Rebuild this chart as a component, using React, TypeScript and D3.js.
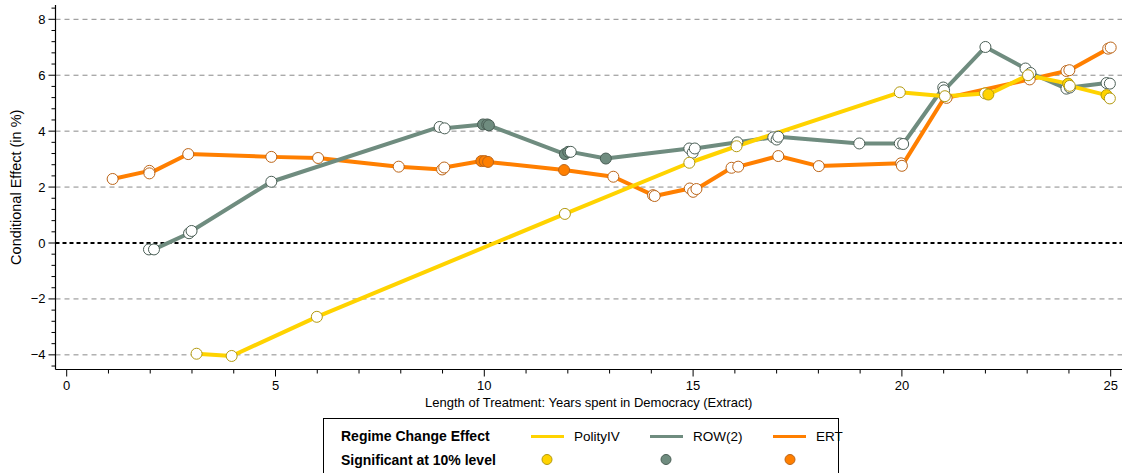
import React from "react";
import * as d3 from "d3";

// ---- Data ----
const ertX = [1.1, 1.98, 1.98, 2.91, 4.9, 6.02, 7.95, 8.99, 9.04, 9.93, 10.01, 10.09, 11.91, 13.09, 14.04, 14.08, 14.92, 15.0, 15.08, 15.92, 16.08, 17.04, 18.01, 19.98, 20.0, 21.03, 21.07, 23.06, 23.94, 24.01, 24.94, 25.0];
const ertY = [2.29, 2.58, 2.49, 3.18, 3.08, 3.04, 2.73, 2.63, 2.70, 2.93, 2.93, 2.90, 2.61, 2.37, 1.71, 1.68, 1.95, 1.83, 1.93, 2.69, 2.73, 3.11, 2.75, 2.85, 2.76, 5.23, 5.19, 5.85, 6.15, 6.18, 6.95, 6.99];
const ertSig = [0, 0, 0, 0, 0, 0, 0, 0, 0, 1, 1, 1, 1, 0, 0, 0, 0, 0, 0, 0, 0, 0, 0, 0, 0, 0, 0, 0, 0, 0, 0, 0];

const rowX = [1.97, 2.09, 2.93, 2.99, 4.9, 8.93, 9.05, 9.97, 10.07, 10.11, 11.93, 12.01, 12.07, 12.91, 14.91, 14.99, 15.04, 16.06, 16.92, 17.0, 17.04, 18.98, 19.95, 20.03, 20.99, 21.01, 22.0, 22.96, 23.08, 23.94, 24.02, 24.9, 24.98];
const rowY = [-0.23, -0.23, 0.35, 0.43, 2.19, 4.15, 4.10, 4.24, 4.24, 4.21, 3.18, 3.26, 3.26, 3.02, 3.38, 3.23, 3.38, 3.60, 3.78, 3.70, 3.80, 3.56, 3.56, 3.54, 5.56, 5.46, 7.01, 6.24, 6.08, 5.52, 5.56, 5.72, 5.70];
const rowSig = [0, 0, 0, 0, 0, 0, 0, 1, 1, 1, 1, 1, 0, 1, 0, 0, 0, 0, 0, 0, 0, 0, 0, 0, 0, 0, 0, 0, 0, 0, 0, 0, 0];

const polX = [3.11, 3.95, 5.99, 11.93, 14.91, 16.04, 19.95, 21.03, 21.99, 22.07, 23.02, 23.98, 24.02, 24.9, 24.98];
const polY = [-3.96, -4.04, -2.64, 1.04, 2.87, 3.46, 5.39, 5.25, 5.35, 5.31, 6.0, 5.70, 5.62, 5.29, 5.17];
const polSig = [0, 0, 0, 0, 0, 0, 0, 0, 0, 1, 0, 1, 0, 1, 0];

const seriesNames = ["PolityIV", "ROW(2)", "ERT"];
const xMajorTicks = [0, 5, 10, 15, 20, 25];
const yMajorTicks = [-4, -2, 0, 2, 4, 6, 8];

const COLORS: Record<string, { line: string; stroke: string }> = {
  PolityIV: { line: "#FFD300", stroke: "#B39A10" },
  "ROW(2)": { line: "#6F8C7F", stroke: "#4A5E55" },
  ERT: { line: "#FF7F00", stroke: "#BC6518" },
};

type Pt = { x: number; y: number; s: number };
const mk = (xs: number[], ys: number[], ss: number[]): Pt[] =>
  xs.map((x, i) => ({ x, y: ys[i], s: ss[i] }));

const data: Record<string, Pt[]> = {
  PolityIV: mk(polX, polY, polSig),
  "ROW(2)": mk(rowX, rowY, rowSig),
  ERT: mk(ertX, ertY, ertSig),
};

const W = 1124;
const H = 473;
const FONT = "'Liberation Sans', Arial, Helvetica, sans-serif";

export default function App() {
  const x = d3.scaleLinear().domain([0, 25]).range([66.7, 1110.7]);
  const y = d3.scaleLinear().domain([0, 8]).range([243, 19.3]);
  const axisLeft = 55.5;
  const axisBottom = 369.5;
  const yTop = 5;
  const xRight = 1122;

  const line = d3
    .line<Pt>()
    .x((d) => x(d.x))
    .y((d) => y(d.y));

  const xMinor = d3.range(0, 26, 1).filter((v) => v % 5 !== 0);
  const yMinor = d3
    .range(-4.4, 8.45, 0.4)
    .map((v) => Math.round(v * 10) / 10)
    .filter((v) => !yMajorTicks.some((m) => Math.abs(m - v) < 1e-6));

  const lineOrder = ["ERT", "ROW(2)", "PolityIV"];

  return (
    <svg
      width={W}
      height={H}
      style={{ position: "absolute", left: 0, top: 0, fontFamily: FONT }}
    >
      <rect x={0} y={0} width={W} height={H} fill="#fff" />
      {/* grid */}
      {yMajorTicks
        .filter((v) => v !== 0)
        .map((v) => (
          <line
            key={"g" + v}
            x1={axisLeft}
            x2={xRight}
            y1={y(v)}
            y2={y(v)}
            stroke="#8a8a8a"
            strokeWidth={1}
            strokeDasharray="5,4"
          />
        ))}
      <line
        x1={axisLeft}
        x2={xRight}
        y1={y(0)}
        y2={y(0)}
        stroke="#000"
        strokeWidth={2}
        strokeDasharray="4,3"
      />
      {/* lines */}
      {lineOrder.map((name) => (
        <path
          key={"l" + name}
          d={line(data[name]) || ""}
          fill="none"
          stroke={COLORS[name].line}
          strokeWidth={4}
          strokeLinejoin="round"
          strokeLinecap="round"
        />
      ))}
      {/* points */}
      {lineOrder.map((name) =>
        data[name].map((d, i) => (
          <circle
            key={name + i}
            cx={x(d.x)}
            cy={y(d.y)}
            r={5.5}
            fill={d.s ? COLORS[name].line : "#fff"}
            stroke={COLORS[name].stroke}
            strokeWidth={1}
          />
        ))
      )}
      {/* axes */}
      <line x1={axisLeft} x2={axisLeft} y1={yTop} y2={axisBottom} stroke="#000" strokeWidth={1.2} />
      <line x1={axisLeft} x2={xRight} y1={axisBottom} y2={axisBottom} stroke="#000" strokeWidth={1.2} />
      {yMajorTicks.map((v) => (
        <g key={"yt" + v}>
          <line x1={axisLeft - 7} x2={axisLeft} y1={y(v)} y2={y(v)} stroke="#000" strokeWidth={1} />
          <text
            x={axisLeft - 10}
            y={y(v)}
            dy="0.35em"
            textAnchor="end"
            fontSize={13}
            fill="#000"
          >
            {v < 0 ? "\u2212" + Math.abs(v) : String(v)}
          </text>
        </g>
      ))}
      {yMinor.map((v) => (
        <line key={"ym" + v} x1={axisLeft - 4} x2={axisLeft} y1={y(v)} y2={y(v)} stroke="#000" strokeWidth={1} />
      ))}
      {xMajorTicks.map((v) => (
        <g key={"xt" + v}>
          <line x1={x(v)} x2={x(v)} y1={axisBottom} y2={axisBottom + 7} stroke="#000" strokeWidth={1} />
          <text x={x(v)} y={axisBottom + 20} textAnchor="middle" fontSize={13} fill="#000">
            {v}
          </text>
        </g>
      ))}
      {xMinor.map((v) => (
        <line key={"xm" + v} x1={x(v)} x2={x(v)} y1={axisBottom} y2={axisBottom + 4} stroke="#000" strokeWidth={1} />
      ))}
      <text
        x={(axisLeft + xRight) / 2}
        y={407}
        textAnchor="middle"
        fontSize={13}
        fill="#000"
      >
        Length of Treatment: Years spent in Democracy (Extract)
      </text>
      <text
        transform={`translate(21,${(yTop + axisBottom) / 2}) rotate(-90)`}
        textAnchor="middle"
        fontSize={14.5}
        fill="#000"
      >
        Conditional Effect (in %)
      </text>
      {/* legend */}
      <rect x={323.5} y={418.5} width={515} height={70} fill="#fff" stroke="#000" strokeWidth={1} />
      <text x={341} y={441} fontSize={14} fontWeight="bold" fill="#000">
        Regime Change Effect
      </text>
      <text x={341} y={464.5} fontSize={14} fontWeight="bold" fill="#000">
        Significant at 10% level
      </text>
      {seriesNames.map((name, i) => {
        const lx = [531, 650, 773][i];
        const cx = [547, 666, 790][i];
        return (
          <g key={"lg" + name}>
            <line x1={lx} x2={lx + 33} y1={436.5} y2={436.5} stroke={COLORS[name].line} strokeWidth={3} />
            <text x={lx + 43} y={441} fontSize={13.5} fill="#000">
              {name}
            </text>
            <circle cx={cx} cy={459.5} r={5} fill={COLORS[name].line} stroke={COLORS[name].stroke} strokeWidth={1} />
          </g>
        );
      })}
    </svg>
  );
}
